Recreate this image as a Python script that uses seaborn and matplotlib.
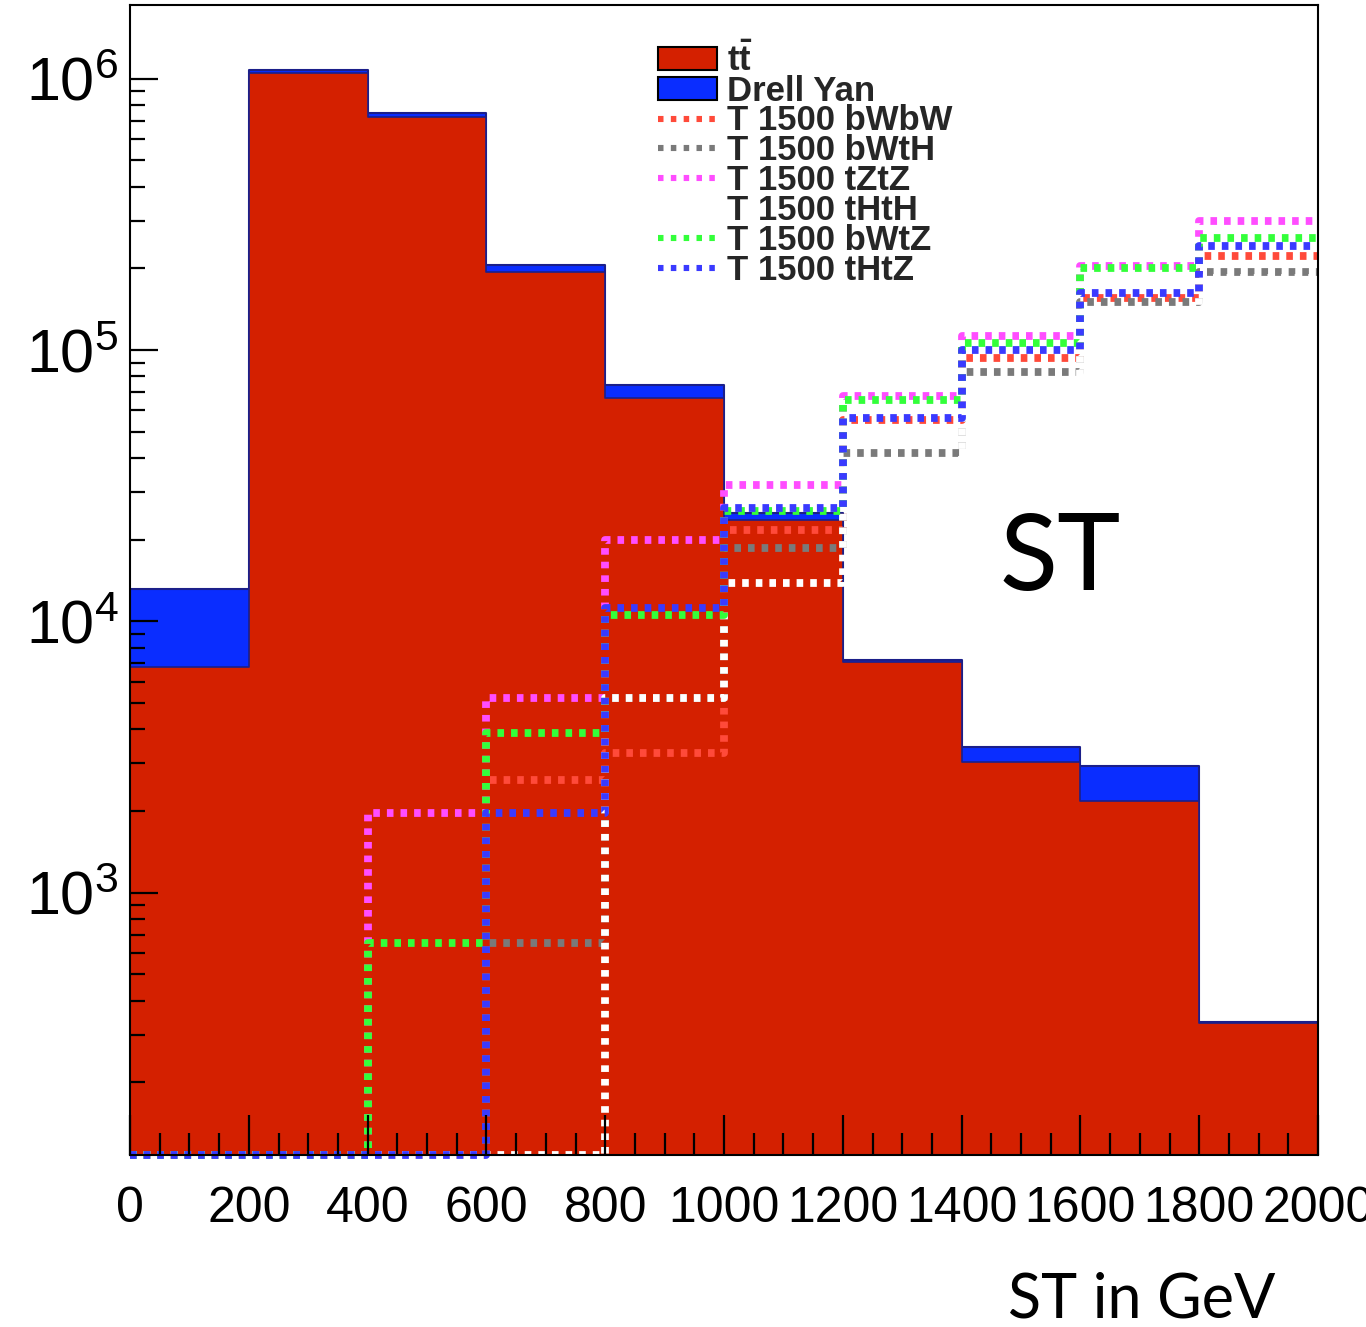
import numpy as np
import pandas as pd
import matplotlib
matplotlib.use("Agg")
import matplotlib.pyplot as plt
from matplotlib.ticker import MultipleLocator, LogLocator, NullFormatter
from matplotlib.patches import Patch
from matplotlib.lines import Line2D
import seaborn as sns

# ---- binning (ST in GeV) ----
bin_edges = [0, 200, 400, 600, 800, 1000, 1200, 1400, 1600, 1800, 2000]

# ---- backgrounds (events per bin) ----
ttbar = [6800, 1.05e6, 7.24e5, 1.94e5, 6.67e4, 2.37e4, 7100, 3040, 2170, 330]
drell_yan = [6400, 30000, 25000, 12000, 7800, 1450, 130, 410, 770, 5]

# ---- T (1500 GeV) signal samples ----
sig_bWbW = [0, 0, 0, 2610, 3280, 21800, 55400, 93700, 156000, 223000]
sig_bWtH = [0, 0, 0, 655, 5240, 18700, 41800, 83200, 151000, 194000]
sig_tZtZ = [0, 0, 1970, 5240, 20000, 31900, 67900, 113000, 204000, 300000]
sig_tHtH = [0, 0, 0, 0, 5240, 13900, 38000, 76000, 140000, 185000]
sig_bWtZ = [0, 0, 655, 3890, 10600, 25600, 65600, 106000, 201000, 259000]
sig_tHtZ = [0, 0, 0, 1970, 11200, 26200, 56300, 100000, 163000, 242000]

signal_names = ["T 1500 bWbW", "T 1500 bWtH", "T 1500 tZtZ",
                "T 1500 tHtH", "T 1500 bWtZ", "T 1500 tHtZ"]
signal_values = [sig_bWbW, sig_bWtH, sig_tZtZ, sig_tHtH, sig_bWtZ, sig_tHtZ]
signal_colors = ["#ff4a3a", "#7a7a7a", "#ff4dff", "#ffffff", "#33ff3a", "#3a3aff"]

TT_COLOR = "#d42000"
DY_COLOR = "#0a2dff"
OUTLINE = "#1b1f8a"
Y_MIN, Y_MAX = 108, 1.87e6

sns.set_style("white")
plt.rcParams["font.family"] = ["Liberation Sans", "DejaVu Sans"]
plt.rcParams["mathtext.fontset"] = "custom"
plt.rcParams["mathtext.rm"] = "Liberation Sans"
plt.rcParams["mathtext.it"] = "Liberation Sans:italic"
plt.rcParams["mathtext.bf"] = "Liberation Sans:bold"

fig = plt.figure(figsize=(13.66, 13.27), dpi=100)
ax = fig.add_axes([130 / 1366, 172 / 1327, 1188 / 1366, 1150 / 1327])
ax.set_axisbelow(False)

edges = np.array(bin_edges, dtype=float)
centers = 0.5 * (edges[:-1] + edges[1:])

df = pd.DataFrame({
    "st": centers,
    "tt": np.array(ttbar, dtype=float),
    "dy": np.array(drell_yan, dtype=float),
})
df["total"] = df["tt"] + df["dy"]
for name, vals in zip(signal_names, signal_values):
    v = np.array(vals, dtype=float)
    # empty bins are drawn on the axis floor
    df[name] = np.where(v > 0, v, Y_MIN)

# stacked backgrounds: total (blue) first, then ttbar (red) over it
sns.histplot(data=df, x="st", weights="total", bins=bin_edges, element="step",
             fill=True, color=DY_COLOR, alpha=1, edgecolor=OUTLINE,
             linewidth=1.5, ax=ax)
sns.histplot(data=df, x="st", weights="tt", bins=bin_edges, element="step",
             fill=True, color=TT_COLOR, alpha=1, edgecolor=OUTLINE,
             linewidth=1.2, ax=ax)

# signal histograms as dotted outlines
SIG_LW = 5.6
dot_style = (0, (0.85, 0.9))
for name, col in zip(signal_names, signal_colors):
    sns.histplot(data=df, x="st", weights=name, bins=bin_edges, element="step",
                 fill=False, color=col, alpha=1, linewidth=SIG_LW,
                 linestyle=dot_style, ax=ax, clip_on=False)

ax.set_yscale("log")
ax.set_xlim(0, 2000)
ax.set_ylim(Y_MIN, Y_MAX)
ax.set_xlabel("")
ax.set_ylabel("")

ax.xaxis.set_major_locator(MultipleLocator(200))
ax.xaxis.set_minor_locator(MultipleLocator(50))
ax.yaxis.set_major_locator(LogLocator(base=10))
ax.yaxis.set_minor_locator(LogLocator(base=10, subs=np.arange(2, 10)))
ax.yaxis.set_minor_formatter(NullFormatter())

ax.tick_params(which="both", bottom=True, left=True, top=False, right=False)
ax.tick_params(axis="x", which="major", direction="in", length=29, width=1.6,
               labelsize=36, pad=22, colors="black")
ax.tick_params(axis="x", which="minor", direction="in", length=16, width=1.6,
               colors="black")
ax.tick_params(axis="y", which="major", direction="in", length=20, width=1.6,
               labelsize=44, pad=8, colors="black")
ax.tick_params(axis="y", which="minor", direction="in", length=11, width=1.6,
               colors="black")
for s in ax.spines.values():
    s.set_color("black")
    s.set_linewidth(1.5)
    s.set_zorder(5)

# legend
handles = [Patch(facecolor=TT_COLOR, edgecolor="black", linewidth=1.5),
           Patch(facecolor=DY_COLOR, edgecolor="black", linewidth=1.5)]
for col in signal_colors:
    handles.append(Line2D([], [], color=col, linewidth=4.4,
                          linestyle=(0, (0.9, 1.2))))
labels = [r"$\mathbf{t\bar{t}}$", "Drell Yan"] + signal_names
leg = ax.legend(handles, labels, loc="upper left",
                bbox_to_anchor=((658 - 130) / 1188, (1155 - 42) / 1150),
                frameon=False, borderpad=0, borderaxespad=0,
                handlelength=1.71, handleheight=0.63, handletextpad=0.29,
                labelspacing=-0.09,
                prop={"family": "Liberation Sans", "weight": "bold", "size": 25})

# annotations
fig.text(1000 / 1366, 1 - 590 / 1327, "ST", family="Lato", fontsize=77,
         ha="left", va="baseline", color="black")
fig.text(1008 / 1366, 1 - 1318 / 1327, "ST in GeV", family="Lato", fontsize=44,
         ha="left", va="baseline", color="black")

fig.savefig("out.png", dpi=100)
